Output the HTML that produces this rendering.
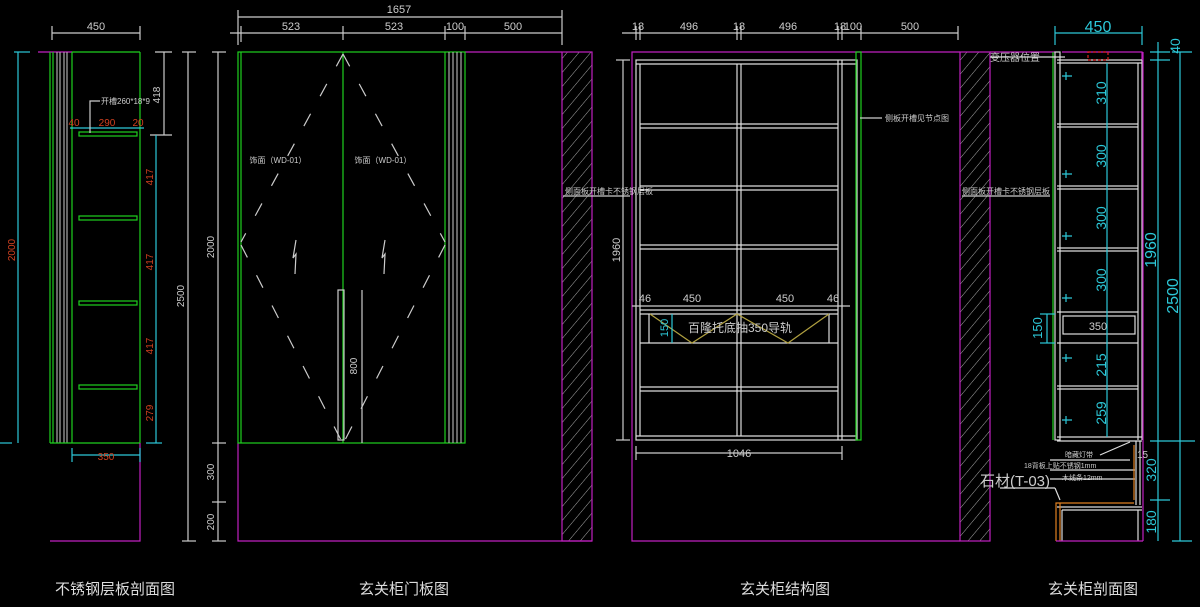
<!DOCTYPE html>
<html><head><meta charset="utf-8"><style>
html,body{margin:0;padding:0;background:#000;}
svg{display:block}
text{font-family:"Liberation Sans","Noto Sans CJK SC",sans-serif;}
</style></head><body>
<svg width="1200" height="607" viewBox="0 0 1200 607" xmlns="http://www.w3.org/2000/svg">
<defs>
<pattern id="h" width="9" height="9" patternUnits="userSpaceOnUse" patternTransform="rotate(40)">
<line x1="0" y1="0" x2="0" y2="9" stroke="#aaa" stroke-width="1"/>
</pattern>
</defs>
<rect width="1200" height="607" fill="#000"/>

<!-- ============ Drawing 1 ============ -->
<g fill="none" stroke-width="1.2">
<line x1="38" y1="52" x2="72" y2="52" stroke="#c020c0"/>
<line x1="72" y1="52" x2="140" y2="52" stroke="#1fd01f"/>
<line x1="50" y1="52" x2="50" y2="443" stroke="#1fd01f"/>
<line x1="53" y1="52" x2="53" y2="443" stroke="#1fd01f"/>
<line x1="57" y1="52" x2="57" y2="443" stroke="#aaa"/>
<line x1="60" y1="52" x2="60" y2="443" stroke="#aaa"/>
<line x1="64" y1="52" x2="64" y2="443" stroke="#aaa"/>
<line x1="67" y1="52" x2="67" y2="443" stroke="#aaa"/>
<line x1="72" y1="52" x2="72" y2="443" stroke="#1fd01f"/>
<line x1="140" y1="52" x2="140" y2="443" stroke="#1fd01f"/>
<line x1="50" y1="443" x2="140" y2="443" stroke="#1fd01f"/>
<rect x="79" y="132" width="58" height="4" stroke="#1fd01f"/>
<rect x="79" y="216" width="58" height="4" stroke="#1fd01f"/>
<rect x="79" y="301" width="58" height="4" stroke="#1fd01f"/>
<rect x="79" y="385" width="58" height="4" stroke="#1fd01f"/>
<polyline points="50,541 140,541 140,443" stroke="#c020c0"/>
<!-- dims -->
<line x1="18" y1="52" x2="18" y2="443" stroke="#2cc8d8"/>
<line x1="14" y1="52" x2="30" y2="52" stroke="#2cc8d8"/>
<line x1="0" y1="443" x2="12" y2="443" stroke="#2cc8d8"/>
<line x1="52" y1="33" x2="140" y2="33" stroke="#ccc"/>
<line x1="52" y1="26" x2="52" y2="40" stroke="#ccc"/>
<line x1="140" y1="26" x2="140" y2="40" stroke="#ccc"/>
<line x1="164" y1="52" x2="164" y2="135" stroke="#ccc"/>
<line x1="155" y1="52" x2="172" y2="52" stroke="#ccc"/>
<line x1="150" y1="135" x2="172" y2="135" stroke="#ccc"/>
<line x1="156" y1="135" x2="156" y2="443" stroke="#2cc8d8"/>
<line x1="146" y1="443" x2="162" y2="443" stroke="#2cc8d8"/>
<line x1="70" y1="128" x2="144" y2="128" stroke="#2cc8d8"/>
<polyline points="90,133 90,101 100,101" stroke="#ccc"/>
<line x1="72" y1="455" x2="140" y2="455" stroke="#2cc8d8"/>
<line x1="72" y1="448" x2="72" y2="462" stroke="#2cc8d8"/>
<line x1="140" y1="448" x2="140" y2="462" stroke="#2cc8d8"/>
<line x1="188" y1="52" x2="188" y2="541" stroke="#ccc"/>
<line x1="182" y1="52" x2="196" y2="52" stroke="#ccc"/>
<line x1="182" y1="541" x2="196" y2="541" stroke="#ccc"/>
<line x1="218" y1="52" x2="218" y2="541" stroke="#ccc"/>
<line x1="212" y1="52" x2="226" y2="52" stroke="#ccc"/>
<line x1="212" y1="443" x2="226" y2="443" stroke="#ccc"/>
<line x1="212" y1="502" x2="226" y2="502" stroke="#ccc"/>
<line x1="212" y1="541" x2="226" y2="541" stroke="#ccc"/>
</g>
<g font-size="10" fill="#ccc">
<text x="96" y="30" text-anchor="middle" font-size="11">450</text>
<text x="101" y="104" font-size="8">开槽260*18*9</text>
<text transform="translate(160,95) rotate(-90)" text-anchor="middle">418</text>
<text transform="translate(214,247) rotate(-90)" text-anchor="middle">2000</text>
<text transform="translate(214,472) rotate(-90)" text-anchor="middle">300</text>
<text transform="translate(214,522) rotate(-90)" text-anchor="middle">200</text>
<text transform="translate(184,296) rotate(-90)" text-anchor="middle">2500</text>
</g>
<g font-size="10" fill="#d04020">
<text transform="translate(15,250) rotate(-90)" text-anchor="middle">2000</text>
<text x="74" y="126" text-anchor="middle">40</text>
<text x="107" y="126" text-anchor="middle">290</text>
<text x="138" y="126" text-anchor="middle">20</text>
<text transform="translate(153,177) rotate(-90)" text-anchor="middle">417</text>
<text transform="translate(153,262) rotate(-90)" text-anchor="middle">417</text>
<text transform="translate(153,346) rotate(-90)" text-anchor="middle">417</text>
<text transform="translate(153,413) rotate(-90)" text-anchor="middle">279</text>
<text x="106" y="460" text-anchor="middle">350</text>
</g>

<!-- ============ Drawing 2 ============ -->
<g fill="none" stroke-width="1.2">
<rect x="562" y="52" width="30" height="489" fill="url(#h)" stroke="#c020c0"/>
<line x1="465" y1="52" x2="562" y2="52" stroke="#c020c0"/>
<polyline points="238,443 238,541 592,541" stroke="#c020c0"/>
<rect x="238" y="52" width="227" height="391" stroke="#1fd01f"/>
<line x1="241" y1="52" x2="241" y2="443" stroke="#1fd01f"/>
<line x1="343" y1="52" x2="343" y2="443" stroke="#1fd01f"/>
<line x1="445" y1="52" x2="445" y2="443" stroke="#1fd01f"/>
<line x1="449" y1="52" x2="449" y2="443" stroke="#aaa"/>
<line x1="453" y1="52" x2="453" y2="443" stroke="#aaa"/>
<line x1="457" y1="52" x2="457" y2="443" stroke="#aaa"/>
<line x1="461" y1="52" x2="461" y2="443" stroke="#aaa"/>
<g stroke="#ccc" stroke-dasharray="14,20">
<line x1="343" y1="54" x2="241" y2="242"/>
<line x1="343" y1="54" x2="445" y2="242"/>
<line x1="241" y1="245" x2="341" y2="440"/>
<line x1="445" y1="245" x2="345" y2="440"/>
</g>
<path d="M296,240 l-3,18 l3,-4 l-1,20" stroke="#ccc"/>
<path d="M385,240 l-3,18 l3,-4 l-1,20" stroke="#ccc"/>
<rect x="338" y="290" width="6" height="150" stroke="#ccc"/>
<line x1="362" y1="290" x2="362" y2="443" stroke="#ccc"/>
<!-- top dims -->
<line x1="238" y1="17" x2="562" y2="17" stroke="#ccc"/>
<line x1="238" y1="10" x2="238" y2="45" stroke="#ccc"/>
<line x1="562" y1="10" x2="562" y2="45" stroke="#ccc"/>
<line x1="230" y1="33" x2="562" y2="33" stroke="#ccc"/>
<line x1="241" y1="26" x2="241" y2="42" stroke="#ccc"/>
<line x1="343" y1="26" x2="343" y2="40" stroke="#ccc"/>
<line x1="445" y1="26" x2="445" y2="40" stroke="#ccc"/>
<line x1="465" y1="26" x2="465" y2="40" stroke="#ccc"/>
</g>
<g font-size="11" fill="#ccc" text-anchor="middle">
<text x="399" y="13">1657</text>
<text x="291" y="30">523</text>
<text x="394" y="30">523</text>
<text x="455" y="30">100</text>
<text x="513" y="30">500</text>
<text x="278" y="163" font-size="8">饰面（WD-01）</text>
<text x="383" y="163" font-size="8">饰面（WD-01）</text>
<text transform="translate(357,366) rotate(-90)" font-size="10">800</text>
</g>

<!-- ============ Drawing 3 ============ -->
<g fill="none" stroke-width="1.2">
<rect x="960" y="52" width="30" height="489" fill="url(#h)" stroke="#c020c0"/>
<polyline points="960,52 632,52 632,541 960,541" stroke="#c020c0"/>
<g stroke="#ddd">
<rect x="636" y="60" width="221" height="380"/>
<line x1="640" y1="64" x2="640" y2="436"/>
<line x1="737" y1="64" x2="737" y2="436"/>
<line x1="741" y1="64" x2="741" y2="436"/>
<line x1="838" y1="60" x2="838" y2="440"/>
<line x1="842" y1="60" x2="842" y2="440"/>
<line x1="636" y1="64" x2="857" y2="64"/>
<line x1="636" y1="436" x2="857" y2="436"/>
<line x1="640" y1="124" x2="838" y2="124"/><line x1="640" y1="128" x2="838" y2="128"/>
<line x1="640" y1="186" x2="838" y2="186"/><line x1="640" y1="190" x2="838" y2="190"/>
<line x1="640" y1="245" x2="838" y2="245"/><line x1="640" y1="249" x2="838" y2="249"/>
<line x1="640" y1="310" x2="838" y2="310"/><line x1="640" y1="314" x2="838" y2="314"/>
<line x1="640" y1="343" x2="838" y2="343"/>
<line x1="640" y1="387" x2="838" y2="387"/><line x1="640" y1="391" x2="838" y2="391"/>
<line x1="649" y1="314" x2="649" y2="343"/>
<line x1="829" y1="314" x2="829" y2="343"/>
</g>
<polyline points="650,314 692,343 737,314 788,343 829,314" stroke="#b0a040"/>
<rect x="856" y="52" width="5" height="388" stroke="#1fd01f"/>
<line x1="672" y1="314" x2="672" y2="343" stroke="#2cc8d8"/>
<!-- dims -->
<line x1="623" y1="60" x2="623" y2="440" stroke="#ccc"/>
<line x1="616" y1="60" x2="630" y2="60" stroke="#ccc"/>
<line x1="616" y1="440" x2="630" y2="440" stroke="#ccc"/>
<line x1="622" y1="33" x2="958" y2="33" stroke="#ccc"/>
<g stroke="#ccc">
<line x1="636" y1="26" x2="636" y2="40"/><line x1="640" y1="26" x2="640" y2="40"/>
<line x1="737" y1="26" x2="737" y2="40"/><line x1="741" y1="26" x2="741" y2="40"/>
<line x1="838" y1="26" x2="838" y2="40"/><line x1="842" y1="26" x2="842" y2="40"/>
<line x1="861" y1="26" x2="861" y2="40"/><line x1="958" y1="26" x2="958" y2="40"/>
<line x1="632" y1="306" x2="850" y2="306"/>
<line x1="636" y1="453" x2="842" y2="453"/>
<line x1="636" y1="446" x2="636" y2="460"/><line x1="842" y1="446" x2="842" y2="460"/>
<line x1="860" y1="118" x2="882" y2="118"/>
<line x1="563" y1="196" x2="630" y2="196"/>
<line x1="962" y1="196" x2="1050" y2="196"/>
</g>
</g>
<g font-size="11" fill="#ccc" text-anchor="middle">
<text x="638" y="30">18</text><text x="689" y="30">496</text>
<text x="739" y="30">18</text><text x="788" y="30">496</text>
<text x="840" y="30">18</text><text x="853" y="30">100</text>
<text x="910" y="30">500</text>
<text transform="translate(620,250) rotate(-90)">1960</text>
<text x="645" y="302">46</text><text x="692" y="302">450</text>
<text x="785" y="302">450</text><text x="833" y="302">46</text>
<text x="740" y="332" font-size="12">百隆托底抽350导轨</text>
<text x="739" y="457">1046</text>
<text x="885" y="121" font-size="8" text-anchor="start">侧板开槽见节点图</text>
<text x="565" y="194" font-size="8" text-anchor="start">侧面板开槽卡不锈钢层板</text>
<text x="962" y="194" font-size="8" text-anchor="start">侧面板开槽卡不锈钢层板</text>
</g>
<text transform="translate(668,328) rotate(-90)" font-size="11" fill="#2cc8d8" text-anchor="middle" font-family="Liberation Sans">150</text>

<!-- ============ Drawing 4 ============ -->
<g fill="none" stroke-width="1.2">
<polyline points="990,52 1055,52" stroke="#c020c0"/>
<polyline points="1062,52 1142,52 1142,60" stroke="#c020c0"/>
<line x1="1053" y1="52" x2="1053" y2="440" stroke="#1fd01f"/>
<g stroke="#ddd">
<rect x="1055" y="52" width="5" height="388"/>
<line x1="1057" y1="60" x2="1142" y2="60"/><line x1="1057" y1="63" x2="1142" y2="63"/>
<line x1="1138" y1="63" x2="1138" y2="440"/><line x1="1142" y1="60" x2="1142" y2="440"/>
<line x1="1057" y1="124" x2="1138" y2="124"/><line x1="1057" y1="127" x2="1138" y2="127"/>
<line x1="1057" y1="186" x2="1138" y2="186"/><line x1="1057" y1="189" x2="1138" y2="189"/>
<line x1="1057" y1="248" x2="1138" y2="248"/><line x1="1057" y1="251" x2="1138" y2="251"/>
<rect x="1063" y="316" width="72" height="18"/>
<line x1="1057" y1="312" x2="1138" y2="312"/><line x1="1057" y1="343" x2="1138" y2="343"/>
<line x1="1057" y1="386" x2="1138" y2="386"/><line x1="1057" y1="389" x2="1138" y2="389"/>
<line x1="1057" y1="437" x2="1142" y2="437"/><line x1="1057" y1="441" x2="1142" y2="441"/>
<line x1="1136" y1="441" x2="1136" y2="505"/><line x1="1140" y1="441" x2="1140" y2="505"/>
<line x1="1057" y1="507" x2="1142" y2="507"/><line x1="1062" y1="510" x2="1142" y2="510"/>
<line x1="1062" y1="510" x2="1062" y2="541"/><line x1="1138" y1="510" x2="1138" y2="541"/>
<line x1="990" y1="57" x2="1065" y2="57"/>
<line x1="1050" y1="460" x2="1130" y2="460"/>
<line x1="1050" y1="470" x2="1135" y2="470"/>
<line x1="1050" y1="479" x2="1135" y2="479"/>
<line x1="1000" y1="488" x2="1055" y2="488"/>
<line x1="1055" y1="488" x2="1060" y2="500"/>
<line x1="1100" y1="455" x2="1130" y2="442"/>
</g>
<polyline points="1056,541 1056,503 1134,503" stroke="#e08020"/>
<line x1="1060" y1="503" x2="1060" y2="541" stroke="#e08020"/>
<line x1="1134" y1="445" x2="1134" y2="500" stroke="#e08020"/>
<rect x="1088" y="52" width="20" height="8" stroke="#e02020" stroke-dasharray="3,2"/>
<line x1="1143" y1="52" x2="1143" y2="541" stroke="#c020c0"/>
<line x1="1056" y1="541" x2="1143" y2="541" stroke="#c020c0"/>
<g stroke="#2cc8d8">
<line x1="1055" y1="33" x2="1142" y2="33"/>
<line x1="1055" y1="26" x2="1055" y2="45"/><line x1="1142" y1="26" x2="1142" y2="45"/>
<line x1="1107" y1="63" x2="1107" y2="437"/>
<line x1="1158" y1="42" x2="1158" y2="541"/>
<line x1="1150" y1="52" x2="1170" y2="52"/><line x1="1150" y1="60" x2="1170" y2="60"/>
<line x1="1150" y1="441" x2="1195" y2="441"/>
<line x1="1150" y1="500" x2="1170" y2="500"/>
<line x1="1180" y1="52" x2="1180" y2="541"/>
<line x1="1172" y1="52" x2="1192" y2="52"/><line x1="1172" y1="541" x2="1192" y2="541"/>
<line x1="1040" y1="314" x2="1055" y2="314"/><line x1="1040" y1="343" x2="1055" y2="343"/>
<line x1="1047" y1="314" x2="1047" y2="343"/>
</g>
<g stroke="#2cc8d8">
<path d="M1062,76 h10 M1066,72 v8 M1062,174 h10 M1066,170 v8 M1062,236 h10 M1066,232 v8 M1062,298 h10 M1066,294 v8 M1062,358 h10 M1066,354 v8 M1062,420 h10 M1066,416 v8"/>
</g>
</g>
<g font-family="Liberation Sans" fill="#2cc8d8" text-anchor="middle">
<text x="1098" y="32" font-size="16">450</text>
<text transform="translate(1180,46) rotate(-90)" font-size="14">40</text>
<text transform="translate(1106,93) rotate(-90)" font-size="14">310</text>
<text transform="translate(1106,156) rotate(-90)" font-size="14">300</text>
<text transform="translate(1106,218) rotate(-90)" font-size="14">300</text>
<text transform="translate(1106,280) rotate(-90)" font-size="14">300</text>
<text transform="translate(1106,365) rotate(-90)" font-size="14">215</text>
<text transform="translate(1106,413) rotate(-90)" font-size="14">259</text>
<text transform="translate(1156,250) rotate(-90)" font-size="16">1960</text>
<text transform="translate(1178,296) rotate(-90)" font-size="16">2500</text>
<text transform="translate(1156,470) rotate(-90)" font-size="14">320</text>
<text transform="translate(1156,522) rotate(-90)" font-size="14">180</text>
<text transform="translate(1042,328) rotate(-90)" font-size="13">150</text>
</g>
<g fill="#ccc">
<text x="990" y="61" font-size="10">变压器位置</text>
<text x="1098" y="330" font-size="11" text-anchor="middle">350</text>
<text x="1065" y="457" font-size="7">暗藏灯带</text>
<text x="1024" y="468" font-size="7">18背板上贴不锈钢1mm</text>
<text x="1062" y="480" font-size="7">木线条12mm</text>
<text x="980" y="486" font-size="15">石材(T-03)</text>
<text x="1137" y="458" font-size="10">15</text>
</g>

<!-- titles -->
<g fill="#ddd" font-size="15" text-anchor="middle">
<text x="115" y="594">不锈钢层板剖面图</text>
<text x="404" y="594">玄关柜门板图</text>
<text x="785" y="594">玄关柜结构图</text>
<text x="1093" y="594">玄关柜剖面图</text>
</g>
</svg>
</body></html>
